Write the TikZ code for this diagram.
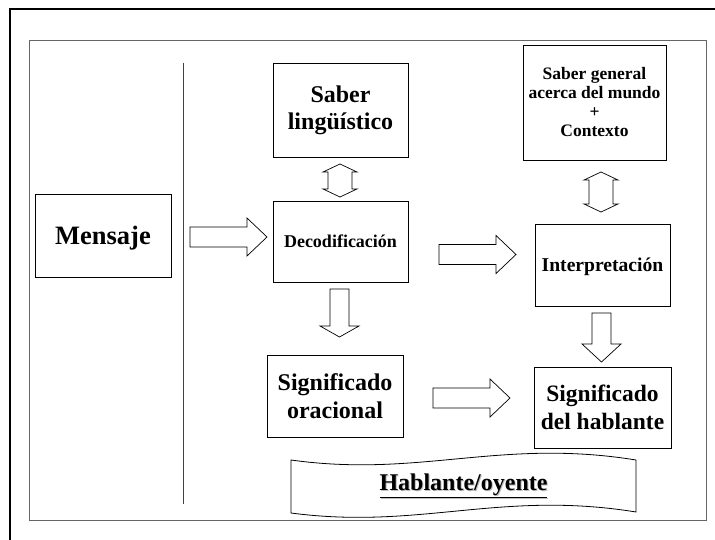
\documentclass[tikz,border=0pt]{standalone}
\usepackage{fontspec}
\setmainfont{Liberation Serif}
\usetikzlibrary{calc}

\tikzset{
  box/.style={draw=black,line width=0.8pt,fill=white,align=center,font=\bfseries,inner sep=0pt},
  blockarrow/.style={draw=black,fill=white,line width=0.7pt,line join=miter},
}

% hollow block arrow pointing right: tail, tip, head length
\newcommand{\rarrow}[3]{%
  \draw[blockarrow] let \p1=(#1), \p2=(#2) in
    (\x1,\y1+10pt) -- (\x2-#3,\y1+10pt) -- (\x2-#3,\y1+19pt) -- (\x2,\y1)
    -- (\x2-#3,\y1-19pt) -- (\x2-#3,\y1-10pt) -- (\x1,\y1-10pt) -- cycle;}
% hollow block arrow pointing down: tail, tip, head length
\newcommand{\darrow}[3]{%
  \draw[blockarrow] let \p1=(#1), \p2=(#2) in
    (\x1-9.5pt,\y1) -- (\x1-9.5pt,\y2+#3) -- (\x1-19.5pt,\y2+#3) -- (\x1,\y2)
    -- (\x1+19.5pt,\y2+#3) -- (\x1+9.5pt,\y2+#3) -- (\x1+9.5pt,\y1) -- cycle;}
% hollow double arrow up/down: top tip, bottom tip, head length
\newcommand{\udarrow}[3]{%
  \draw[blockarrow] let \p1=(#1), \p2=(#2) in
    (\x1,\y1) -- (\x1+17pt,\y1-#3) -- (\x1+12pt,\y1-#3) -- (\x1+12pt,\y2+#3)
    -- (\x1+17pt,\y2+#3) -- (\x1,\y2) -- (\x1-17pt,\y2+#3) -- (\x1-12pt,\y2+#3)
    -- (\x1-12pt,\y1-#3) -- (\x1-17pt,\y1-#3) -- cycle;}

\begin{document}
\begin{tikzpicture}[x=1pt,y=-1pt,line cap=butt]
\useasboundingbox (0,0) rectangle (715,540);

% frames
\draw[line width=2pt] (10,540) -- (10,9) -- (715,9);
\draw[black!60,line width=0.9pt] (29,40) rectangle (706,520);
\draw[black!75,line width=0.8pt] (183,63) -- (183,504);

% boxes
\node[box,minimum width=136,minimum height=83,text depth=0pt,font=\bfseries\fontsize{26.5}{29}\selectfont] (mensaje) at (103,235.5) {Mensaje};
\node[box,minimum width=135,minimum height=94,font=\bfseries\fontsize{24}{27}\selectfont] (saberling) at (340.5,110) {Saber\\lingüístico};
\node[box,minimum width=135,minimum height=81,font=\bfseries\fontsize{18}{20}\selectfont] (decod) at (340.5,241.5) {Decodificación};
\node[box,minimum width=136,minimum height=82,font=\bfseries\fontsize{24}{28}\selectfont] (sigorac) at (335,396) {Significado\\oracional};
\node[box,minimum width=143,minimum height=115,font=\bfseries\fontsize{17.5}{19}\selectfont] (sabergen) at (594.5,102.5) {Saber general\\acerca del mundo\\+\\Contexto};
\node[box,minimum width=135,minimum height=82,text depth=0pt,font=\bfseries\fontsize{19.6}{22}\selectfont] (interp) at (602.5,265) {Interpretación};
\node[box,minimum width=137,minimum height=81,font=\bfseries\fontsize{23.5}{28}\selectfont] (sighabl) at (602.5,407.5) {Significado\\del hablante};

% banner
\draw[line width=0.8pt,fill=white] (291,460) .. controls (420,478) and (500,438) .. (636,460)
  -- (636,512) .. controls (500,490) and (420,530) .. (291,513) -- cycle;
\node[font=\bfseries\fontsize{24}{28}\selectfont,text=black!25] at (464.5,487) {\underline{Hablante/oyente}};
\node[font=\bfseries\fontsize{24}{28}\selectfont] (hablante) at (463.5,486) {\underline{Hablante/oyente}};

% arrows
\coordinate (a1) at (190,237);   \coordinate (b1) at (267,237);
\coordinate (a2) at (439,254.5); \coordinate (b2) at (516,254.5);
\coordinate (a3) at (433,398);   \coordinate (b3) at (510,398);
\rarrow{a1}{b1}{20pt}
\rarrow{a2}{b2}{20pt}
\rarrow{a3}{b3}{20pt}
\coordinate (a4) at (339.5,289); \coordinate (b4) at (339.5,337);
\coordinate (a5) at (601.5,313); \coordinate (b5) at (601.5,362);
\darrow{a4}{b4}{11pt}
\darrow{a5}{b5}{18pt}
\coordinate (a6) at (340,164); \coordinate (b6) at (340,197);
\coordinate (a7) at (601,172); \coordinate (b7) at (601,212);
\udarrow{a6}{b6}{8pt}
\udarrow{a7}{b7}{8pt}
\end{tikzpicture}
\end{document}
